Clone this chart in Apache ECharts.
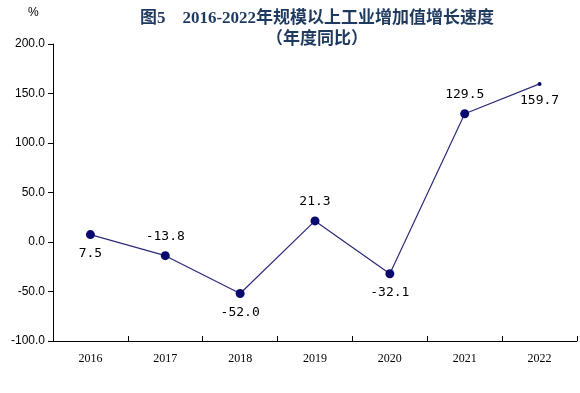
<!DOCTYPE html>
<html><head><meta charset="utf-8">
<script src="https://cdn.jsdelivr.net/npm/echarts@6/dist/echarts.min.js"></script>
<style>html,body{margin:0;padding:0;background:#fff}#c{width:580px;height:393px}</style>
</head><body><div id="c"></div>
<script>
const categories = ['2016','2017','2018','2019','2020','2021','2022'];
const values = [7.5, -13.8, -52.0, 21.3, -32.1, 129.5, 159.7];
const labelPos = ['bottom','top','bottom','top','bottom','top','bottom'];
const yTicks = [-100, 200, 50];

const chart = echarts.init(document.getElementById('c'), null, {renderer:'canvas'});
chart.setOption({
  animation:false,
  backgroundColor:'#fff',
  graphic:[
    {type:'text', left:28, top:7, style:{text:'%', font:'12px "Liberation Sans", Arial', fill:'#000'}},
    {type:'text', x:317, y:8, style:{text:'图5　2016-2022年规模以上工业增加值增长速度\n（年度同比）', textAlign:'center', font:'bold 17px "Liberation Serif","Noto Sans CJK SC"', lineHeight:21, fill:'#1F3A5F'}}
  ],
  grid:{left:53, right:3, top:44, bottom:52, containLabel:false},
  xAxis:{
    type:'category', data:categories, boundaryGap:true,
    axisLine:{onZero:false, lineStyle:{color:'#000', width:1}},
    axisTick:{show:true, inside:true, length:5, lineStyle:{color:'#000'}},
    axisLabel:{color:'#000', fontSize:12, fontFamily:'"Liberation Serif", serif', margin:12}
  },
  yAxis:{
    type:'value', min:yTicks[0], max:yTicks[1], interval:yTicks[2],
    axisLine:{show:true, lineStyle:{color:'#000', width:1}},
    axisTick:{show:true, length:5, lineStyle:{color:'#000'}},
    splitLine:{show:false},
    axisLabel:{color:'#000', fontSize:12, fontFamily:'"Liberation Sans", Arial', formatter:v=>v.toFixed(1), margin:8}
  },
  series:[{
    type:'line', data:values.map((v,i)=>({value:v, symbolSize: i===values.length-1?4:9, label:{position:labelPos[i]}})),
    symbol:'circle',
    lineStyle:{color:'#2B2B7A', width:1.2},
    itemStyle:{color:'#0A0A6E'},
    label:{show:true, formatter:p=>p.value.toFixed(1), color:'#000', fontSize:13, fontFamily:'"DejaVu Sans Mono", monospace', distance:8}
  }]
});
</script></body></html>
